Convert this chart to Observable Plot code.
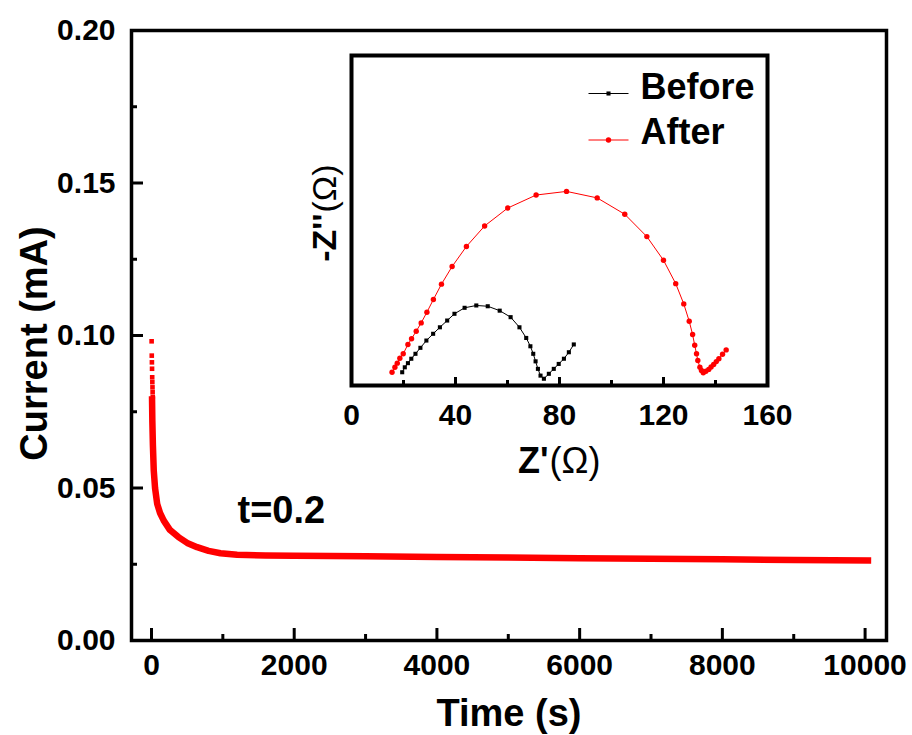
<!DOCTYPE html>
<html>
<head>
<meta charset="utf-8">
<script src="https://cdn.jsdelivr.net/npm/d3@7"></script>
<script src="https://cdn.jsdelivr.net/npm/@observablehq/plot@0.6"></script>
<style>
  body { margin: 0; background: #fff; }
  #chart { position: relative; width: 912px; height: 735px; }
  #chart svg { position: absolute; }
</style>
</head>
<body>
<div id="chart"></div>
<script>
// Potentiostatic polarisation: current (mA) against time (s)
const timeS = [8, 12, 20, 32, 50, 80, 120, 172, 260, 378, 500, 640, 800, 967, 1200, 1600, 2000, 3000, 4000, 5000, 6000, 7000, 8000, 9000, 10040];
const currentMA = [0.0790, 0.0720, 0.0640, 0.0557, 0.0500, 0.0448, 0.0418, 0.0393, 0.0362, 0.0339, 0.0320, 0.0306, 0.0294, 0.0286, 0.0281, 0.0279, 0.0278, 0.0276, 0.0274, 0.0272, 0.0270, 0.0268, 0.0266, 0.0264, 0.0262];

// First few samples, drawn as separate points at the start of the run
const earlyTimeS = [2, 4, 6, 8, 10, 12, 14, 16, 18];
const earlyCurrentMA = [0.0981, 0.0934, 0.0912, 0.0891, 0.0863, 0.0847, 0.0830, 0.0814, 0.0798];

// Impedance spectra (Nyquist), before and after polarisation
const beforeZre = [19.5, 20.5, 21.7, 23.0, 24.6, 26.5, 28.8, 31.4, 34.0, 36.8, 39.6, 43.5, 48.0, 52.4, 57.0, 61.2, 64.6, 67.2, 68.8, 69.9, 70.8, 71.7, 72.7, 74.0, 75.9, 77.8, 79.7, 81.7, 83.6, 85.5];
const beforeZim = [5.1, 7.0, 8.6, 10.3, 12.2, 14.5, 17.3, 19.9, 22.4, 25.0, 27.6, 29.9, 30.8, 30.5, 28.8, 26.3, 22.4, 18.3, 15.1, 12.2, 9.3, 6.4, 3.8, 2.6, 4.5, 6.4, 8.3, 10.3, 12.8, 15.8];
const afterZre = [15.6, 16.7, 17.6, 18.6, 19.9, 21.7, 23.1, 24.9, 26.8, 29.0, 31.5, 34.6, 38.7, 44.2, 51.2, 60.1, 71.0, 82.7, 94.5, 105.1, 113.6, 120.0, 124.7, 127.8, 129.9, 131.2, 132.0, 132.7, 133.2, 134.0, 134.6, 135.3, 136.3, 137.4, 138.3, 139.3, 140.3, 141.3, 142.7, 144.1];
const afterZim = [5.1, 7.0, 8.6, 10.5, 12.2, 15.8, 18.0, 20.9, 24.1, 28.2, 33.1, 39.0, 45.8, 53.5, 61.4, 68.3, 73.3, 74.7, 72.2, 65.9, 57.3, 48.2, 39.2, 31.4, 24.7, 19.6, 15.5, 12.2, 9.6, 7.0, 5.8, 4.9, 5.5, 6.2, 7.1, 8.1, 9.2, 10.3, 12.0, 13.7];

const seriesNames = ["Before", "After"];
const seriesColors = ["#000000", "#ff0000"];

// Axis ticks
const timeTicks = [0, 2000, 4000, 6000, 8000, 10000];
const timeMinorTicks = [1000, 3000, 5000, 7000, 9000];
const currentTicks = [0, 0.05, 0.10, 0.15, 0.20];
const currentMinorTicks = [0.025, 0.075, 0.125, 0.175];
const zreTicks = [0, 40, 80, 120, 160];
const zreMinorTicks = [20, 60, 100, 140];

const FONT = "'Liberation Sans', Arial, Helvetica, sans-serif";
const RED = "#ff0000";

const curve = timeS.map((t, k) => ({t, i: currentMA[k]}));
const early = earlyTimeS.map((t, k) => ({t, i: earlyCurrentMA[k]}));
const before = beforeZre.map((re, k) => ({re, im: beforeZim[k]}));
const after = afterZre.map((re, k) => ({re, im: afterZim[k]}));

// ---- main chart ----
const main = Plot.plot({
  width: 912,
  height: 735,
  marginLeft: 131,
  marginRight: 26,
  marginTop: 30,
  marginBottom: 95,
  x: {domain: [-280, 10300]},
  y: {domain: [0, 0.2]},
  style: {fontFamily: FONT, fontWeight: "bold", fontSize: "30px", color: "black", background: "white", overflow: "visible"},
  marks: [
    Plot.line(curve, {x: "t", y: "i", stroke: RED, strokeWidth: 6.5, strokeLinejoin: "round", strokeLinecap: "square"}),
    Plot.dot(early, {x: "t", y: "i", symbol: "square", r: 2.6, fill: RED, stroke: null}),
    // inward ticks on bottom and left
    Plot.tickX(timeTicks, {x: d => d, stroke: "black", strokeWidth: 3, insetTop: 598}),
    Plot.tickX(timeMinorTicks, {x: d => d, stroke: "black", strokeWidth: 3, insetTop: 604}),
    Plot.tickY(currentTicks, {y: d => d, stroke: "black", strokeWidth: 3, insetRight: 743}),
    Plot.tickY(currentMinorTicks, {y: d => d, stroke: "black", strokeWidth: 3, insetRight: 749}),
    Plot.frame({stroke: "black", strokeWidth: 3.5}),
    Plot.axisX(timeTicks, {tickSize: 0, tickPadding: 13, tickFormat: d => String(d), label: null}),
    Plot.axisY(currentTicks, {tickSize: 0, tickPadding: 16, tickFormat: d3.format(".2f"), label: null}),
    Plot.text(["Time (s)"], {text: d => d, frameAnchor: "bottom", dy: 85, textAnchor: "middle", lineAnchor: "bottom", fontSize: 38}),
    Plot.text(["Current (mA)"], {text: d => d, frameAnchor: "left", dx: -97, dy: 8, rotate: -90, textAnchor: "middle", lineAnchor: "middle", fontSize: 38}),
    Plot.text(["t=0.2"], {text: d => d, frameAnchor: "bottom-left", dx: 106, dy: -118, textAnchor: "start", lineAnchor: "bottom", fontSize: 38})
  ]
});

// ---- inset: Nyquist plot ----
const lineSymbol = {draw(ctx) { ctx.moveTo(-20, 0); ctx.lineTo(20, 0); }};

const legendMarks = seriesNames.flatMap((name, k) => [
  Plot.dot([name], {frameAnchor: "top-left", dx: 257, dy: 38 + k * 46.5, symbol: lineSymbol, r: 5, fill: "none", stroke: seriesColors[k], strokeWidth: 1}),
  Plot.dot([name], {frameAnchor: "top-left", dx: 257, dy: 38 + k * 46.5, symbol: k === 0 ? "square" : "circle", r: k === 0 ? 2.3 : 2.7, fill: seriesColors[k], stroke: null}),
  Plot.text([name], {text: d => d, frameAnchor: "top-left", dx: 289, dy: 43 + k * 45.5, textAnchor: "start", lineAnchor: "bottom", fontSize: 36})
]);

const inset = Plot.plot({
  width: 510,
  height: 455,
  marginLeft: 71,
  marginRight: 23,
  marginTop: 20,
  marginBottom: 105,
  x: {domain: [0, 160]},
  y: {domain: [0, 127], axis: null},
  style: {fontFamily: FONT, fontWeight: "bold", fontSize: "30px", color: "black", background: "transparent", overflow: "visible"},
  marks: [
    Plot.line(after, {x: "re", y: "im", stroke: RED, strokeWidth: 1}),
    Plot.dot(after, {x: "re", y: "im", r: 2.7, fill: RED, stroke: null}),
    Plot.line(before, {x: "re", y: "im", stroke: "black", strokeWidth: 1}),
    Plot.dot(before, {x: "re", y: "im", symbol: "square", r: 2.3, fill: "black", stroke: null}),
    Plot.tickX(zreTicks, {x: d => d, stroke: "black", strokeWidth: 3, insetTop: 322}),
    Plot.tickX(zreMinorTicks, {x: d => d, stroke: "black", strokeWidth: 3, insetTop: 325}),
    Plot.frame({stroke: "black", strokeWidth: 4}),
    Plot.axisX(zreTicks, {tickSize: 0, tickPadding: 18, tickFormat: d => String(d), label: null}),
    // Z'(Ω): bold symbol, regular-weight unit
    Plot.text(["Z'"], {text: d => d, frameAnchor: "bottom", dx: -11, dy: 87, textAnchor: "end", lineAnchor: "bottom", fontSize: 36}),
    Plot.text(["(Ω)"], {text: d => d, frameAnchor: "bottom", dx: -10, dy: 87, textAnchor: "start", lineAnchor: "bottom", fontSize: 36, fontWeight: "normal"}),
    Plot.text(["-Z''"], {text: d => d, frameAnchor: "left", dx: -26, dy: -7, rotate: -90, textAnchor: "end", lineAnchor: "middle", fontSize: 34}),
    Plot.text(["(Ω)"], {text: d => d, frameAnchor: "left", dx: -26, dy: -8, rotate: -90, textAnchor: "start", lineAnchor: "middle", fontSize: 34, fontWeight: "normal"}),
    ...legendMarks
  ]
});

const chart = document.getElementById("chart");
main.style.left = "0px";
main.style.top = "0px";
inset.style.left = "280px";
inset.style.top = "35px";
chart.appendChild(main);
chart.appendChild(inset);
</script>
</body>
</html>
